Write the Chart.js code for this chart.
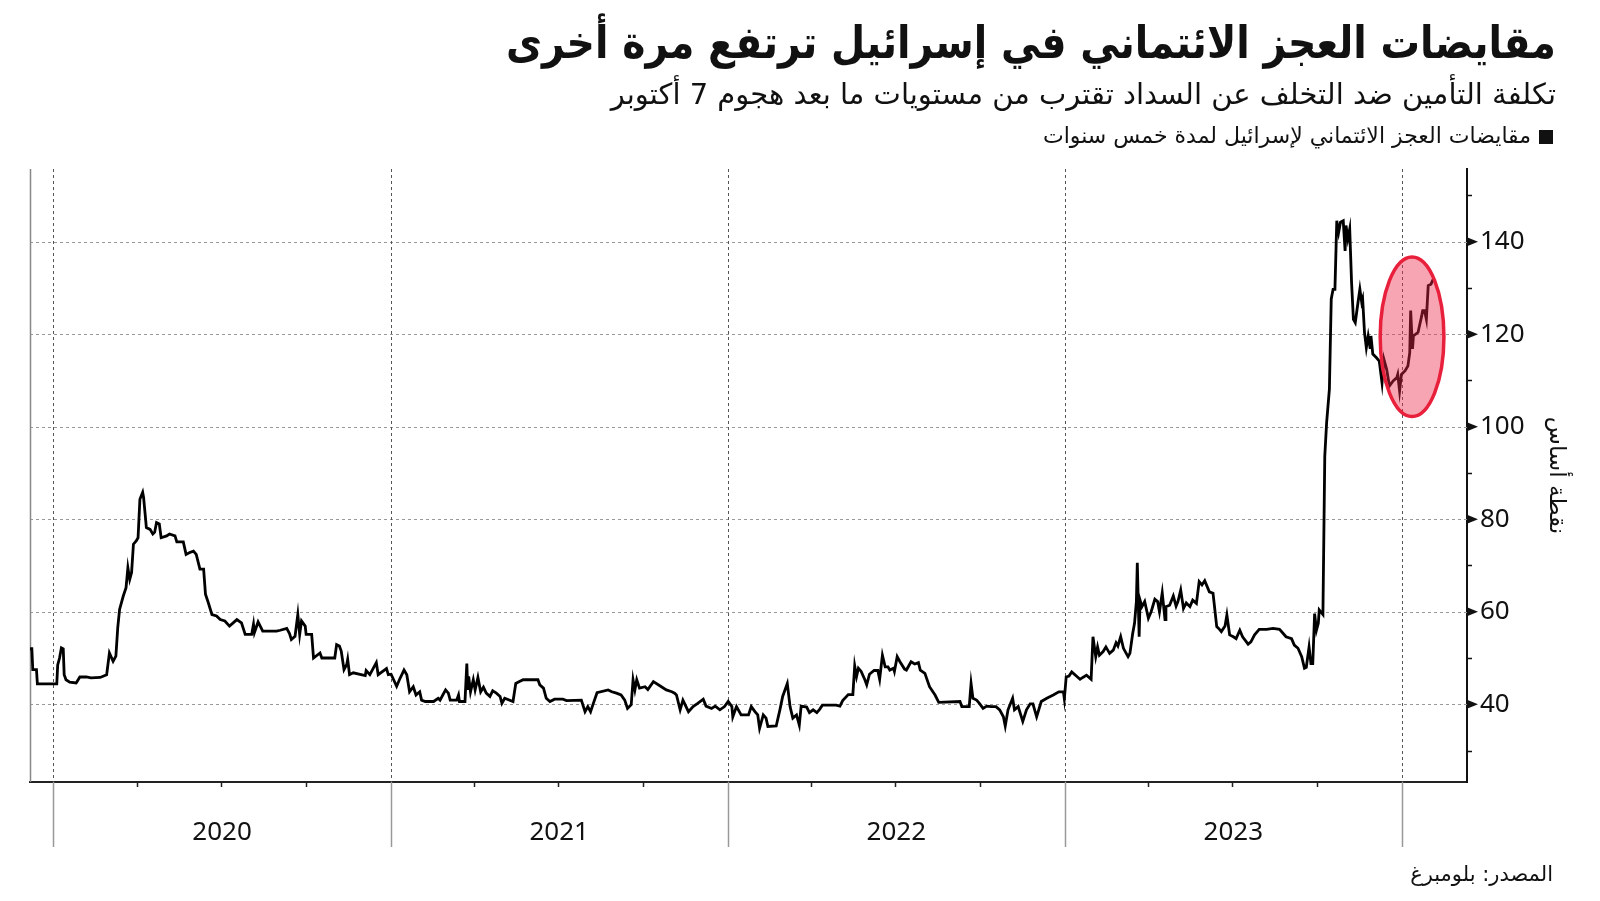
<!DOCTYPE html>
<html lang="ar" dir="rtl">
<head>
<meta charset="utf-8">
<title>مقايضات العجز الائتماني في إسرائيل</title>
<script src="https://cdn.jsdelivr.net/npm/chart.js@4.4.0/dist/chart.umd.min.js"></script>
<style>
  body { margin: 0; width: 1600px; height: 901px; background: #fff; overflow: hidden; position: relative; font-family: "DejaVu Sans", sans-serif; color: #111; }
  #chart { position: absolute; left: 0; top: 0; }
  .txt { position: absolute; white-space: nowrap; line-height: 1; z-index: 2; }
  #title { right: 44px; top: 20px; font-size: 45px; font-weight: bold; transform: scaleX(0.875); transform-origin: right center; }
  #subtitle { right: 44px; top: 80px; font-size: 29px; }
  #legend { right: 47px; top: 125px; font-size: 22px; }
  #legend .sq { display: inline-block; width: 14px; height: 14px; background: #111; margin-left: 8px; vertical-align: -1px; }
  #source { right: 47px; top: 864px; font-size: 21px; }
</style>
</head>
<body>
<div class="txt" id="title">مقايضات العجز الائتماني في إسرائيل ترتفع مرة أخرى</div>
<div class="txt" id="subtitle">تكلفة التأمين ضد التخلف عن السداد تقترب من مستويات ما بعد هجوم 7 أكتوبر</div>
<div class="txt" id="legend"><span class="sq"></span>مقايضات العجز الائتماني لإسرائيل لمدة خمس سنوات</div>
<div class="txt" id="source">المصدر: بلومبرغ</div>
<canvas id="chart" width="1600" height="901"></canvas>
<script>
// Israel 5Y CDS, basis points
const dates = [
  '2019-12-07','2019-12-09','2019-12-10','2019-12-14','2019-12-15','2020-01-05','2020-01-06','2020-01-08','2020-01-10','2020-01-12',
  '2020-01-13','2020-01-15','2020-01-19','2020-01-26','2020-01-30','2020-02-06','2020-02-11','2020-02-21','2020-02-28','2020-03-02',
  '2020-03-06','2020-03-09','2020-03-11','2020-03-13','2020-03-17','2020-03-20','2020-03-22','2020-03-24','2020-03-26','2020-03-28',
  '2020-03-31','2020-04-02','2020-04-04','2020-04-07','2020-04-08','2020-04-10','2020-04-11','2020-04-15','2020-04-18','2020-04-20',
  '2020-04-22','2020-04-25','2020-04-27','2020-05-03','2020-05-06','2020-05-12','2020-05-14','2020-05-21','2020-05-24','2020-05-28',
  '2020-06-01','2020-06-04','2020-06-08','2020-06-12','2020-06-14','2020-06-17','2020-06-21','2020-06-26','2020-06-30','2020-07-05',
  '2020-07-10','2020-07-14','2020-07-18','2020-07-23','2020-07-27','2020-08-03','2020-08-05','2020-08-06','2020-08-10','2020-08-15',
  '2020-08-30','2020-09-03','2020-09-10','2020-09-13','2020-09-15','2020-09-19','2020-09-22','2020-09-24','2020-09-26','2020-09-30',
  '2020-10-01','2020-10-07','2020-10-09','2020-10-16','2020-10-18','2020-11-01','2020-11-03','2020-11-06','2020-11-08','2020-11-11',
  '2020-11-14','2020-11-15','2020-11-17','2020-11-21','2020-12-04','2020-12-05','2020-12-09','2020-12-16','2020-12-18','2020-12-27',
  '2020-12-29','2021-01-01','2021-01-07','2021-01-10','2021-01-15','2021-01-18','2021-01-21','2021-01-25','2021-01-28','2021-02-01',
  '2021-02-03','2021-02-07','2021-02-16','2021-02-21','2021-02-23','2021-02-26','2021-03-01','2021-03-04','2021-03-06','2021-03-13',
  '2021-03-15','2021-03-16','2021-03-22','2021-03-24','2021-03-25','2021-03-26','2021-03-28','2021-03-31','2021-04-02','2021-04-05',
  '2021-04-08','2021-04-11','2021-04-14','2021-04-18','2021-04-21','2021-04-25','2021-04-29','2021-05-01','2021-05-04','2021-05-13',
  '2021-05-16','2021-05-20','2021-05-24','2021-06-09','2021-06-11','2021-06-15','2021-06-18','2021-06-22','2021-06-27','2021-07-06',
  '2021-07-10','2021-07-26','2021-07-30','2021-08-02','2021-08-05','2021-08-08','2021-08-12','2021-08-24','2021-08-28','2021-09-02',
  '2021-09-07','2021-09-11','2021-09-14','2021-09-18','2021-09-20','2021-09-22','2021-09-24','2021-09-27','2021-10-03','2021-10-06',
  '2021-10-12','2021-10-19','2021-10-26','2021-11-01','2021-11-04','2021-11-06','2021-11-10','2021-11-13','2021-11-19','2021-11-24',
  '2021-11-29','2021-12-05','2021-12-08','2021-12-14','2021-12-18','2021-12-23','2021-12-28','2022-01-01','2022-01-05','2022-01-06',
  '2022-01-10','2022-01-15','2022-01-23','2022-01-26','2022-01-30','2022-02-02','2022-02-04','2022-02-08','2022-02-11','2022-02-13',
  '2022-02-22','2022-02-26','2022-03-01','2022-03-06','2022-03-09','2022-03-12','2022-03-16','2022-03-19','2022-03-21','2022-03-27',
  '2022-03-30','2022-04-03','2022-04-07','2022-04-10','2022-04-13','2022-04-28','2022-05-02','2022-05-05','2022-05-11','2022-05-16',
  '2022-05-18','2022-05-20','2022-05-22','2022-05-25','2022-05-29','2022-05-31','2022-06-03','2022-06-08','2022-06-12','2022-06-14',
  '2022-06-17','2022-06-20','2022-06-23','2022-06-25','2022-06-29','2022-06-30','2022-07-03','2022-07-06','2022-07-11','2022-07-13',
  '2022-07-18','2022-07-22','2022-07-26','2022-07-28','2022-08-02','2022-08-07','2022-08-13','2022-08-17','2022-09-09','2022-09-11',
  '2022-09-19','2022-09-21','2022-09-23','2022-09-27','2022-09-30','2022-10-04','2022-10-08','2022-10-13','2022-10-18','2022-10-22',
  '2022-10-26','2022-10-28','2022-10-31','2022-11-05','2022-11-07','2022-11-11','2022-11-16','2022-11-20','2022-11-24','2022-11-27',
  '2022-12-01','2022-12-06','2022-12-12','2022-12-19','2022-12-25','2022-12-30','2022-12-31','2023-01-02','2023-01-05','2023-01-08',
  '2023-01-13','2023-01-17','2023-01-20','2023-01-24','2023-01-29','2023-01-31','2023-02-03','2023-02-05','2023-02-07','2023-02-11',
  '2023-02-14','2023-02-18','2023-02-22','2023-02-25','2023-02-27','2023-03-02','2023-03-05','2023-03-08','2023-03-10','2023-03-12',
  '2023-03-15','2023-03-17','2023-03-19','2023-03-20','2023-03-22','2023-03-23','2023-03-25','2023-03-28','2023-04-01','2023-04-04',
  '2023-04-08','2023-04-11','2023-04-13','2023-04-16','2023-04-19','2023-04-20','2023-04-24','2023-04-28','2023-05-01','2023-05-03',
  '2023-05-06','2023-05-09','2023-05-12','2023-05-16','2023-05-19','2023-05-23','2023-05-26','2023-05-29','2023-06-01','2023-06-06',
  '2023-06-10','2023-06-14','2023-06-17','2023-06-19','2023-06-23','2023-06-25','2023-06-28','2023-07-02','2023-07-05','2023-07-09',
  '2023-07-12','2023-07-18','2023-07-21','2023-07-25','2023-07-30','2023-08-07','2023-08-14','2023-08-21','2023-08-25','2023-08-28',
  '2023-09-03','2023-09-06','2023-09-10','2023-09-14','2023-09-17','2023-09-19','2023-09-22','2023-09-24','2023-09-26','2023-09-28',
  '2023-09-30','2023-10-02','2023-10-03','2023-10-07','2023-10-09','2023-10-11','2023-10-14','2023-10-16','2023-10-18','2023-10-20',
  '2023-10-22','2023-10-24','2023-10-26','2023-10-29','2023-10-31','2023-11-01','2023-11-03','2023-11-05','2023-11-07','2023-11-09',
  '2023-11-11','2023-11-14','2023-11-16','2023-11-18','2023-11-19','2023-11-21','2023-11-23','2023-11-25','2023-11-27','2023-11-28',
  '2023-11-30','2023-12-04','2023-12-07','2023-12-10','2023-12-12','2023-12-15','2023-12-18','2023-12-22','2023-12-26','2023-12-27',
  '2023-12-29','2023-12-31','2024-01-04','2024-01-07','2024-01-09','2024-01-10','2024-01-12','2024-01-13','2024-01-18','2024-01-22',
  '2024-01-23','2024-01-25','2024-01-27','2024-01-29','2024-02-01','2024-02-04'
];
const cds = [
  52.0,52.0,47.5,47.5,44.4,44.4,48.5,50.0,52.2,52.0,
  46.4,45.3,44.8,44.6,45.9,45.9,45.7,45.8,46.4,51.1,
  49.3,50.4,56.5,60.5,63.4,65.2,69.5,67.0,68.5,74.6,
  75.3,76.0,84.3,85.8,84.7,80.4,78.2,77.8,76.8,77.2,
  79.3,79.0,76.0,76.4,76.8,76.4,75.1,75.1,72.4,72.8,
  73.1,72.4,69.2,69.2,63.8,62.0,59.4,59.1,58.3,58.0,
  56.9,57.6,58.3,57.6,55.1,55.1,57.3,55.5,57.8,55.8,
  55.8,56.0,56.4,55.3,54.0,54.7,59.4,55.1,58.0,56.9,
  55.1,55.1,50.0,51.1,50.0,50.0,52.9,52.6,51.5,47.5,
  48.6,49.7,46.4,46.8,46.2,47.3,46.4,49.0,46.4,47.7,
  46.4,46.5,43.9,45.3,47.4,46.4,42.7,43.8,42.0,42.7,
  40.9,40.6,40.6,41.3,40.9,42.0,43.1,42.4,40.9,40.9,
  42.0,40.6,40.6,48.8,43.1,46.0,42.7,45.3,43.1,45.8,
  42.7,43.7,42.4,41.7,42.9,42.4,41.7,40.2,41.3,40.6,
  44.5,44.9,45.3,45.3,44.2,43.5,41.3,40.6,41.1,41.1,
  40.8,40.9,38.4,39.5,38.4,40.2,42.5,43.1,42.7,42.4,
  42.0,40.9,39.1,39.9,45.3,43.1,45.3,43.5,43.8,43.2,
  44.9,44.0,43.1,42.7,42.4,42.0,38.8,40.9,38.4,39.5,
  40.2,41.1,39.6,39.1,39.6,38.8,39.5,40.6,39.5,37.3,
  39.5,37.7,37.7,39.5,38.4,37.7,34.8,37.7,37.0,35.2,
  35.3,38.8,41.7,44.5,39.5,37.0,37.7,35.5,39.6,39.4,
  38.2,38.8,38.2,38.9,39.8,39.8,39.6,40.8,42.1,42.1,
  48.3,46.0,47.8,47.1,45.3,44.2,46.5,47.3,47.3,45.4,
  50.6,48.1,48.1,47.4,47.8,47.1,50.3,49.2,47.6,47.4,
  49.2,48.7,49.0,47.4,46.7,43.8,42.0,40.4,40.6,39.5,
  39.5,44.5,41.3,40.9,40.2,39.1,39.6,39.5,39.5,38.8,
  37.3,35.3,38.8,41.3,38.8,39.5,36.3,38.8,40.1,40.1,
  37.3,40.6,41.3,42.0,42.7,42.7,41.2,45.9,46.1,47.0,
  46.1,45.4,45.8,46.3,45.4,54.6,50.3,52.4,50.6,51.4,
  52.4,51.0,51.7,53.3,52.6,54.6,52.1,51.0,50.3,51.0,
  55.3,57.5,62.2,70.6,54.6,62.5,61.1,62.2,58.6,60.0,
  62.7,62.2,60.0,64.1,58.3,61.1,61.4,63.4,61.2,62.2,
  64.7,60.7,61.9,61.1,62.5,61.8,66.5,65.8,66.7,64.3,
  64.0,56.8,56.2,55.7,56.9,59.3,55.0,54.6,54.2,56.0,
  54.6,53.0,53.5,55.0,56.2,56.2,56.4,56.2,55.3,54.6,
  54.2,52.8,52.1,50.3,47.8,48.0,52.4,48.8,48.8,59.6,
  56.0,57.5,60.4,59.4,93.6,100.9,108.1,127.6,129.7,129.7,
  144.5,142.0,144.2,144.5,138.0,143.5,140.6,142.7,131.2,123.2,
  122.5,126.9,129.7,126.9,127.6,120.4,117.1,119.6,117.1,119.6,
  115.7,114.9,114.2,109.5,114.6,112.4,108.8,109.9,110.6,111.3,
  107.7,111.3,112.1,113.1,116.0,125.1,116.8,119.6,120.4,124.0,
  125.1,125.1,123.2,130.5,130.8,132.1
];

const yearLabels = ['2020', '2021', '2022', '2023'];
const yearMids = ['2020-07-02', '2021-07-02', '2022-07-02', '2023-07-02'];
const yearStarts = ['2020-01-01', '2021-01-01', '2022-01-01', '2023-01-01', '2024-01-01'];
const quarterStarts = [
  '2020-04-01','2020-07-01','2020-10-01','2021-04-01','2021-07-01','2021-10-01',
  '2022-04-01','2022-07-01','2022-10-01','2023-04-01','2023-07-01','2023-10-01'
];
const yTickValues = [40, 60, 80, 100, 120, 140];
const yMinorValues = [30, 50, 70, 90, 110, 130, 150];

// the circled recent rise (date span and value span of the ellipse)
const highlight = { from: '2023-12-08', to: '2024-02-15', low: 102.2, high: 136.7 };

const toDay = s => Date.parse(s) / 86400000;

const decor = {
  id: 'decor',
  beforeDatasetsDraw(chart) {
    const { ctx, chartArea: a, scales: { x, y } } = chart;
    ctx.save();
    // horizontal dotted grid
    ctx.setLineDash([3, 3]);
    ctx.strokeStyle = '#999';
    ctx.lineWidth = 1;
    yTickValues.forEach(v => {
      const py = Math.round(y.getPixelForValue(v)) + 0.5;
      ctx.beginPath(); ctx.moveTo(a.left, py); ctx.lineTo(a.right, py); ctx.stroke();
    });
    // year boundaries, dotted inside the plot
    ctx.strokeStyle = '#555';
    yearStarts.forEach(d => {
      const px = Math.round(x.getPixelForValue(toDay(d))) + 0.5;
      ctx.beginPath(); ctx.moveTo(px, a.top); ctx.lineTo(px, a.bottom); ctx.stroke();
    });
    ctx.setLineDash([]);
    // and solid below the axis
    ctx.strokeStyle = '#999';
    ctx.lineWidth = 1.5;
    yearStarts.forEach(d => {
      const px = Math.round(x.getPixelForValue(toDay(d))) + 0.5;
      ctx.beginPath(); ctx.moveTo(px, a.bottom); ctx.lineTo(px, a.bottom + 65); ctx.stroke();
    });
    // quarter ticks
    ctx.strokeStyle = '#222';
    quarterStarts.forEach(d => {
      const px = Math.round(x.getPixelForValue(toDay(d))) + 0.5;
      ctx.beginPath(); ctx.moveTo(px, a.bottom); ctx.lineTo(px, a.bottom + 5); ctx.stroke();
    });
    // left frame line
    ctx.strokeStyle = '#888';
    ctx.beginPath(); ctx.moveTo(a.left + 0.5, a.top); ctx.lineTo(a.left + 0.5, a.bottom); ctx.stroke();
    // right axis minor ticks and major markers
    ctx.strokeStyle = '#111';
    yMinorValues.forEach(v => {
      const py = Math.round(y.getPixelForValue(v)) + 0.5;
      ctx.beginPath(); ctx.moveTo(a.right, py); ctx.lineTo(a.right + 5, py); ctx.stroke();
    });
    ctx.fillStyle = '#111';
    yTickValues.forEach(v => {
      const py = y.getPixelForValue(v);
      ctx.beginPath(); ctx.moveTo(a.right, py - 4.5); ctx.lineTo(a.right + 11, py); ctx.lineTo(a.right, py + 4.5); ctx.closePath(); ctx.fill();
    });
    ctx.restore();
  },
  afterDatasetsDraw(chart) {
    const { ctx, scales: { x, y } } = chart;
    const x1 = x.getPixelForValue(toDay(highlight.from));
    const x2 = x.getPixelForValue(toDay(highlight.to));
    const y1 = y.getPixelForValue(highlight.high);
    const y2 = y.getPixelForValue(highlight.low);
    ctx.save();
    ctx.beginPath();
    ctx.ellipse((x1 + x2) / 2, (y1 + y2) / 2, (x2 - x1) / 2, (y2 - y1) / 2, 0, 0, Math.PI * 2);
    ctx.fillStyle = 'rgba(238, 40, 75, 0.42)';
    ctx.fill();
    ctx.lineWidth = 3.5;
    ctx.strokeStyle = '#e8203c';
    ctx.stroke();
    ctx.restore();
  }
};

new Chart(document.getElementById('chart'), {
  type: 'line',
  data: {
    datasets: [{
      label: 'مقايضات العجز الائتماني لإسرائيل لمدة خمس سنوات',
      data: dates.map((d, i) => ({ x: toDay(d), y: cds[i] })),
      borderColor: '#000',
      borderWidth: 2.8,
      pointRadius: 0,
      tension: 0,
      fill: false
    }]
  },
  options: {
    responsive: false,
    animation: false,
    layout: { padding: { left: 30, top: 169, right: 30, bottom: 0 } },
    plugins: { legend: { display: false }, tooltip: { enabled: false } },
    scales: {
      x: {
        type: 'linear',
        min: toDay('2019-12-07'),
        max: toDay('2024-03-11'),
        afterBuildTicks: s => { s.ticks = yearMids.map(d => ({ value: toDay(d) })); },
        afterFit: s => { s.height = 119; },
        ticks: {
          callback: (v, i) => yearLabels[i],
          autoSkip: false, maxRotation: 0,
          font: { family: 'Noto Sans', size: 26 },
          color: '#111',
          padding: 35
        },
        grid: { display: false, drawTicks: false },
        border: { display: true, color: '#222', width: 2 }
      },
      y: {
        position: 'right',
        min: 23.2,
        max: 155.7,
        afterBuildTicks: s => { s.ticks = yTickValues.map(v => ({ value: v })); },
        afterFit: s => { s.width = 103; },
        ticks: {
          font: { family: 'Noto Sans', size: 26 },
          color: '#111',
          padding: 13
        },
        grid: { display: false, drawTicks: false },
        border: { display: true, color: '#111', width: 2 },
        title: {
          display: true,
          text: 'نقطة أساس',
          font: { family: 'DejaVu Sans', size: 23 },
          color: '#111',
          padding: 0
        }
      }
    }
  },
  plugins: [decor]
});
</script>
</body>
</html>
